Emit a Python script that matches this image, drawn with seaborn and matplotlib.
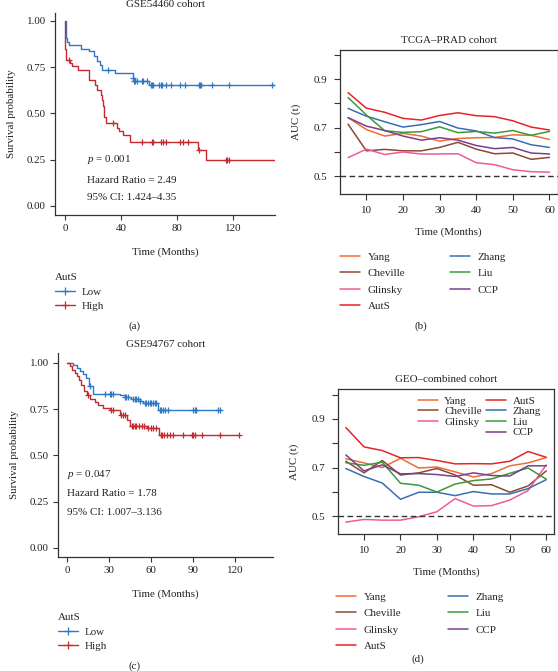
import numpy as np
import pandas as pd
import matplotlib
matplotlib.use("Agg")
import matplotlib.pyplot as plt
from matplotlib.lines import Line2D
import seaborn as sns

# ---------------- data ----------------
# Panel (a) GSE54460 KM
a_low_t = [0, 0.5, 0.9, 1.4, 3.1, 11.4, 17.5, 20.8, 22.7, 25.1, 26.3, 35.7, 48.3, 49.2, 60.1, 150.0]
a_low_s = [1.0, 0.933, 0.906, 0.888, 0.87, 0.847, 0.835, 0.808, 0.786, 0.763, 0.736, 0.72, 0.69, 0.678, 0.655, 0.655]
a_low_c = [31.0, 48.8, 49.6, 50.3, 51.1, 54.7, 55.8, 58.3, 61.1, 62.0, 63.0, 67.2, 68.4, 69.6, 72.0, 76.0,
           81.9, 85.5, 95.6, 96.6, 97.5, 105.1, 117.4, 148.1]
a_high_t = [0, 0.2, 0.7, 3.8, 5.0, 9.0, 17.5, 21.5, 22.7, 25.8, 26.3, 27.0, 27.9, 29.3, 36.9, 38.8, 41.7,
            46.4, 94.9, 100.4, 150.0]
a_high_s = [1.0, 0.847, 0.79, 0.772, 0.754, 0.733, 0.682, 0.655, 0.628, 0.60, 0.574, 0.538, 0.482, 0.448,
            0.42, 0.403, 0.385, 0.344, 0.304, 0.25, 0.25]
a_high_c = [2.6, 34.6, 54.7, 62.5, 63.0, 68.9, 70.1, 72.0, 82.2, 84.0, 88.0, 95.6, 115.0, 115.9, 116.9]

# Panel (c) GSE94767 KM
c_low_t = [0, 4.3, 7.4, 9.0, 11.4, 13.8, 15.5, 18.6, 37.6, 41.2, 46.0, 51.9, 54.3, 65.0, 110.2]
c_low_s = [1.0, 0.99, 0.975, 0.957, 0.94, 0.92, 0.875, 0.83, 0.825, 0.815, 0.805, 0.795, 0.785, 0.745, 0.745]
c_low_c = [16.2, 26.9, 30.5, 31.7, 32.9, 41.6, 42.4, 43.6, 47.1, 48.3, 49.5, 50.7, 52.4, 55.5, 56.7, 57.9,
           59.0, 60.2, 61.4, 62.6, 63.8, 66.2, 67.4, 68.6, 69.8, 72.1, 90.0, 91.2, 92.4, 107.9, 109.5]
c_high_t = [0, 2.4, 3.8, 5.5, 7.2, 8.6, 10.3, 11.9, 14.3, 16.2, 19.8, 22.2, 25.8, 30.5, 37.7, 42.5, 44.9,
            56.8, 65.9, 122.4]
c_high_s = [1.0, 0.982, 0.964, 0.946, 0.928, 0.906, 0.883, 0.847, 0.829, 0.805, 0.787, 0.775, 0.757, 0.744,
            0.72, 0.694, 0.661, 0.648, 0.612, 0.612]
c_high_c = [15.0, 31.7, 32.9, 38.9, 40.1, 41.3, 46.1, 47.3, 48.4, 49.6, 51.6, 53.2, 54.9, 58.0, 59.7, 61.6,
            63.5, 66.8, 68.0, 69.2, 71.1, 73.5, 75.4, 83.1, 89.0, 90.2, 91.4, 96.2, 109.3, 122.4]

# Time-dependent AUC
months = [5, 10, 15, 20, 25, 30, 35, 40, 45, 50, 55, 60]
models = ["Yang", "Cheville", "Glinsky", "AutS", "Zhang", "Liu", "CCP"]

b_yang     = [0.741, 0.692, 0.665, 0.676, 0.665, 0.644, 0.655, 0.658, 0.659, 0.670, 0.668, 0.651]
b_cheville = [0.714, 0.604, 0.610, 0.604, 0.604, 0.618, 0.639, 0.611, 0.592, 0.595, 0.569, 0.577]
b_glinsky  = [0.576, 0.611, 0.589, 0.599, 0.591, 0.591, 0.592, 0.555, 0.547, 0.526, 0.518, 0.516]
b_auts     = [0.844, 0.780, 0.763, 0.738, 0.731, 0.750, 0.761, 0.749, 0.745, 0.728, 0.702, 0.690]
b_zhang    = [0.779, 0.747, 0.724, 0.702, 0.712, 0.725, 0.698, 0.686, 0.659, 0.653, 0.629, 0.618]
b_liu      = [0.824, 0.752, 0.687, 0.680, 0.683, 0.703, 0.679, 0.684, 0.677, 0.688, 0.668, 0.684]
b_ccp      = [0.741, 0.706, 0.688, 0.665, 0.648, 0.658, 0.648, 0.626, 0.613, 0.618, 0.595, 0.591]

d_yang     = [0.736, 0.719, 0.700, 0.738, 0.698, 0.702, 0.682, 0.661, 0.675, 0.707, 0.719, 0.741]
d_cheville = [0.726, 0.678, 0.729, 0.669, 0.678, 0.696, 0.669, 0.627, 0.629, 0.598, 0.624, 0.686]
d_glinsky  = [0.475, 0.486, 0.483, 0.483, 0.497, 0.518, 0.572, 0.541, 0.543, 0.566, 0.605, 0.711]
d_auts     = [0.865, 0.785, 0.770, 0.740, 0.741, 0.729, 0.715, 0.716, 0.715, 0.726, 0.766, 0.742]
d_zhang    = [0.696, 0.663, 0.636, 0.569, 0.598, 0.598, 0.584, 0.601, 0.591, 0.591, 0.613, 0.650]
d_liu      = [0.720, 0.709, 0.722, 0.635, 0.627, 0.599, 0.632, 0.646, 0.653, 0.676, 0.698, 0.652]
d_ccp      = [0.752, 0.686, 0.711, 0.674, 0.675, 0.671, 0.663, 0.678, 0.667, 0.665, 0.707, 0.707]

palette = {"Yang": "#F46A35", "Cheville": "#8B4A33", "Glinsky": "#EE5C98", "AutS": "#E3262A",
           "Zhang": "#3B6DB3", "Liu": "#3A9A3A", "CCP": "#7A3E8E"}
KM_LOW = "#2F79C4"
KM_HIGH = "#C42B30"

# ---------------- style ----------------
sns.set_style("ticks")
plt.rcParams["font.family"] = ["Liberation Serif", "DejaVu Serif"]
plt.rcParams["mathtext.fontset"] = "custom"
plt.rcParams["mathtext.rm"] = "Liberation Serif"
plt.rcParams["mathtext.it"] = "Liberation Serif:italic"
FS = 7.9
TXT = "#222222"
SPINE = "#333333"

W, H = 558, 671
fig = plt.figure(figsize=(W / 100, H / 100), dpi=100)


def px_axes(l, t, r, b):
    return fig.add_axes([l / W, 1 - b / H, (r - l) / W, (b - t) / H])


def fx(x):
    return x / W


def fy(y):
    return 1 - y / H


def step_df(t, s):
    return pd.DataFrame({"t": t, "s": s})


def censor_df(t, s, c):
    t = np.asarray(t)
    s = np.asarray(s)
    idx = np.searchsorted(t, np.asarray(c), side="right") - 1
    return pd.DataFrame({"t": c, "s": s[idx]})


def km_panel(ax, low, high, xlim, xticks, ylim, title, texts, textx, texty):
    for (t, s, c), col in ((low, KM_LOW), (high, KM_HIGH)):
        sns.lineplot(data=step_df(t, s), x="t", y="s", ax=ax, color=col, lw=1.0,
                     drawstyle="steps-post", estimator=None, sort=False)
        sns.scatterplot(data=censor_df(t, s, c), x="t", y="s", ax=ax, color=col,
                        marker="+", s=22, linewidth=0.9, zorder=3)
    ax.set_xlim(*xlim)
    ax.set_ylim(*ylim)
    ax.set_xticks(xticks)
    ax.set_yticks([0, 0.25, 0.5, 0.75, 1.0])
    ax.set_yticklabels(["0.00", "0.25", "0.50", "0.75", "1.00"])
    sns.despine(ax=ax)
    for sp in ("left", "bottom"):
        ax.spines[sp].set_color(SPINE)
        ax.spines[sp].set_linewidth(0.9)
    ax.tick_params(length=3.5, width=0.8, color=SPINE, labelsize=FS, labelcolor=TXT, pad=3)
    ax.set_title(title, fontsize=FS, color=TXT, pad=4)
    ax.set_xlabel("Time (Months)", fontsize=FS, color=TXT, labelpad=10)
    ax.set_ylabel("Survival probability", fontsize=FS, color=TXT, labelpad=8)
    for txt, yy in zip(texts, texty):
        ax.text(textx, yy, txt, fontsize=FS, color=TXT, va="center", ha="left")


def km_legend(x, y):
    handles = [Line2D([], [], color=KM_LOW, lw=1.0, marker="+", markersize=6, mew=0.9),
               Line2D([], [], color=KM_HIGH, lw=1.0, marker="+", markersize=6, mew=0.9)]
    fig.legend(handles, ["Low", "High"], title="AutS", loc="upper left",
               bbox_to_anchor=(fx(x), fy(y)), frameon=False, fontsize=FS, title_fontsize=FS,
               borderpad=0, borderaxespad=0, handlelength=1.8, handletextpad=0.6,
               labelspacing=0.45, alignment="left")


# ---------------- panel (a) ----------------
axA = px_axes(55, 13, 275, 215)
km_panel(axA, (a_low_t, a_low_s, a_low_c), (a_high_t, a_high_s, a_high_c),
         (-7.1, 150), [0, 40, 80, 120], (-0.049, 1.043), "GSE54460 cohort",
         ["$p$ = 0.001", "Hazard Ratio = 2.49", "95% CI: 1.424\u20134.35"], 15.7, [0.249, 0.14, 0.043])
km_legend(55, 273)
fig.text(fx(135), fy(326), "(a)", fontsize=FS, color=TXT, ha="center", va="center")

# ---------------- panel (c) ----------------
axC = px_axes(58, 353, 273, 557)
km_panel(axC, (c_low_t, c_low_s, c_low_c), (c_high_t, c_high_s, c_high_c),
         (-6.4, 147), [0, 30, 60, 90, 120], (-0.049, 1.054), "GSE94767 cohort",
         ["$p$ = 0.047", "Hazard Ratio = 1.78", "95% CI: 1.007\u20133.136"], 0.0, [0.395, 0.292, 0.189])
km_legend(58, 613)
fig.text(fx(135), fy(666), "(c)", fontsize=FS, color=TXT, ha="center", va="center")


# ---------------- AUC panels ----------------
def auc_panel(ax, series, title):
    rows = []
    for m, vals in zip(models, series):
        for t, v in zip(months, vals):
            rows.append({"Time": t, "AUC": v, "Model": m})
    df = pd.DataFrame(rows)
    sns.lineplot(data=df, x="Time", y="AUC", hue="Model", hue_order=models, palette=palette,
                 ax=ax, lw=1.1, legend=False, estimator=None, sort=False)
    ax.axhline(0.5, color="#333333", lw=1.0, dashes=(4, 2.5))
    ax.set_xlim(2.8, 62.2)
    ax.set_ylim(0.428, 1.022)
    ax.set_xticks([10, 20, 30, 40, 50, 60])
    ax.set_yticks([0.5, 0.6, 0.7, 0.8, 0.9, 1.0])
    ax.set_yticklabels(["0.5", "", "0.7", "", "0.9", ""])
    for sp in ax.spines.values():
        sp.set_color(SPINE)
        sp.set_linewidth(0.9)
        sp.set_visible(True)
    ax.tick_params(length=4, width=0.8, color=SPINE, labelsize=FS, labelcolor=TXT, pad=5)
    ax.set_title(title, fontsize=FS, color=TXT, pad=5)
    ax.set_xlabel("Time (Months)", fontsize=FS, color=TXT, labelpad=9)
    ax.set_ylabel("AUC (t)", fontsize=FS, color=TXT, labelpad=9)


def auc_legend(x, y, colsp):
    handles = [Line2D([], [], color=palette[m], lw=1.1) for m in models]
    fig.legend(handles, models, ncol=2, loc="upper left", bbox_to_anchor=(fx(x), fy(y)),
               frameon=False, fontsize=FS, borderpad=0, borderaxespad=0, handlelength=1.8,
               handletextpad=0.7, labelspacing=0.62, columnspacing=colsp)


axB = px_axes(340, 49.5, 557.5, 193.5)
auc_panel(axB, [b_yang, b_cheville, b_glinsky, b_auts, b_zhang, b_liu, b_ccp], "TCGA\u2013PRAD cohort")
auc_legend(340, 252, 4.1)
fig.text(fx(421), fy(326), "(b)", fontsize=FS, color=TXT, ha="center", va="center")

axD = px_axes(337.8, 389.4, 554.3, 533.5)
auc_panel(axD, [d_yang, d_cheville, d_glinsky, d_auts, d_zhang, d_liu, d_ccp], "GEO\u2013combined cohort")
# inner legend
inner_labels = ["Yang", "Cheville", "Glinsky", "", "AutS", "Zhang", "Liu", "CCP"]
inner_handles = [Line2D([], [], color=palette[m], lw=1.1) if m else Line2D([], [], alpha=0)
                 for m in inner_labels]
axD.legend(inner_handles, inner_labels, ncol=2, loc="upper left",
           bbox_to_anchor=(fx(418), fy(396)), bbox_transform=fig.transFigure,
           frameon=False, fontsize=FS, borderpad=0, borderaxespad=0, handlelength=1.8,
           handletextpad=0.6, labelspacing=0.08, columnspacing=0.4)
auc_legend(336, 592, 4.3)
fig.text(fx(418), fy(659), "(d)", fontsize=FS, color=TXT, ha="center", va="center")

fig.savefig("out.png", dpi=100)
